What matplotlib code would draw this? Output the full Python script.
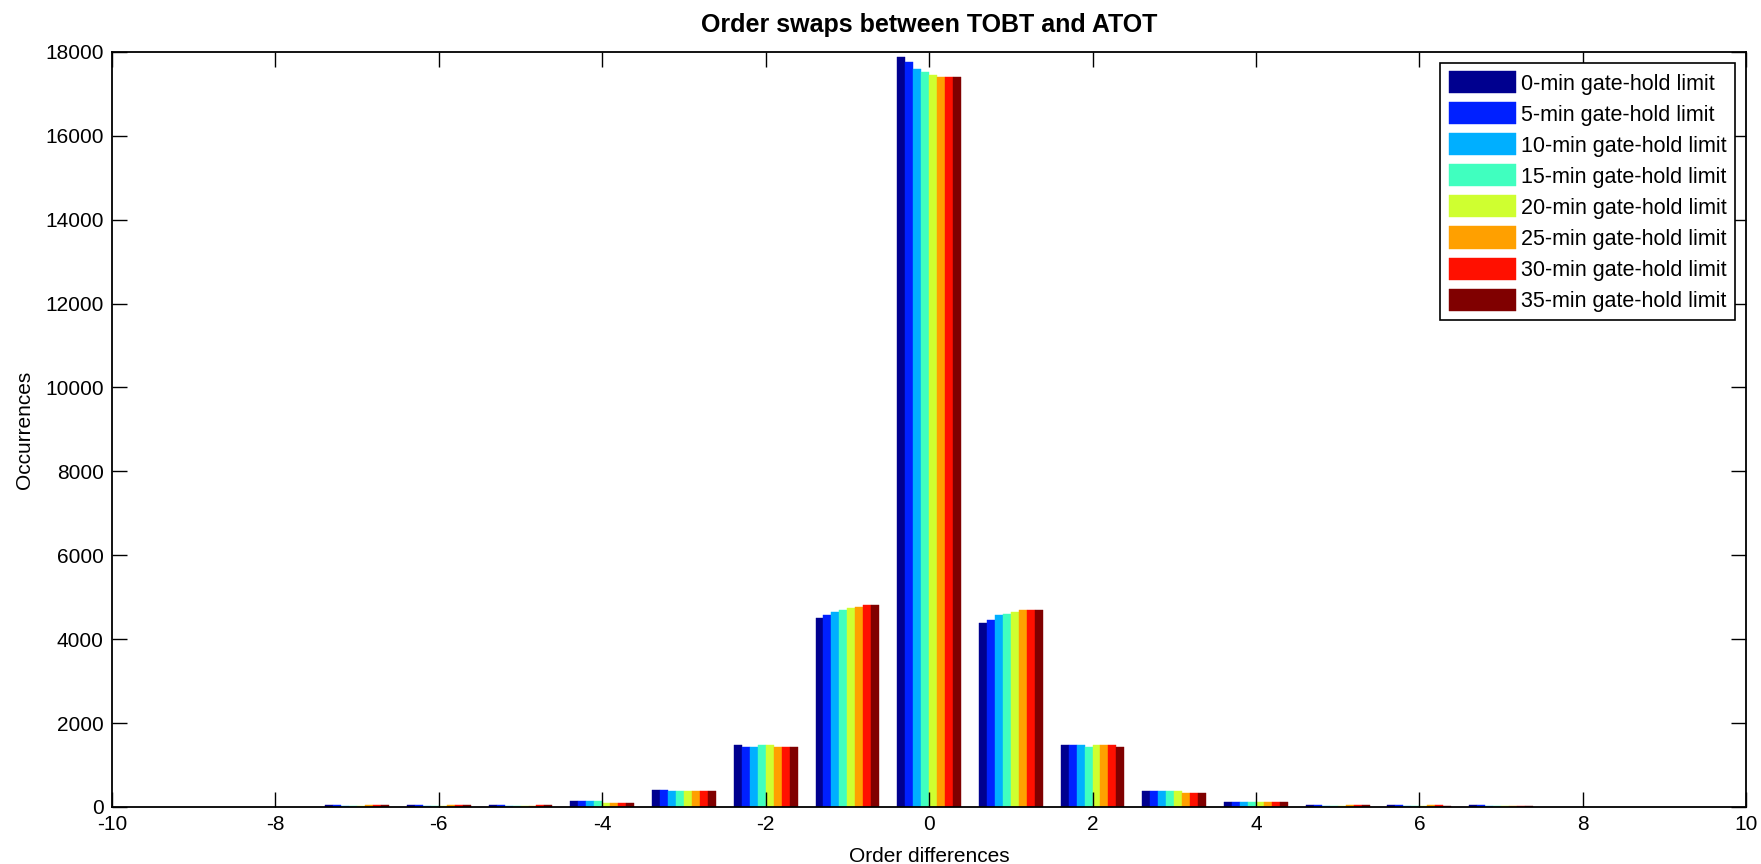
import matplotlib
matplotlib.use('Agg')
import matplotlib.pyplot as plt
import numpy as np

plt.rcParams['font.family'] = ['Liberation Sans', 'DejaVu Sans']
plt.rcParams['axes.unicode_minus'] = False

# order difference (group positions)
order_diff = [-7, -6, -5, -4, -3, -2, -1, 0, 1, 2, 3, 4, 5, 6, 7]

# occurrences per gate-hold limit
hold_0 = [40, 45, 40, 135, 400, 1470, 4500, 17870, 4380, 1470, 375, 130, 40, 40, 40]
hold_5 = [40, 40, 40, 135, 400, 1425, 4570, 17755, 4450, 1470, 375, 130, 40, 40, 40]
hold_10 = [35, 35, 35, 135, 375, 1425, 4650, 17600, 4570, 1470, 375, 120, 35, 35, 35]
hold_15 = [35, 35, 35, 135, 375, 1470, 4690, 17525, 4610, 1425, 375, 110, 35, 35, 35]
hold_20 = [35, 30, 35, 95, 375, 1470, 4740, 17445, 4650, 1470, 375, 110, 35, 35, 30]
hold_25 = [40, 40, 35, 95, 375, 1425, 4775, 17405, 4690, 1470, 335, 120, 40, 40, 35]
hold_30 = [40, 40, 40, 95, 375, 1425, 4810, 17405, 4690, 1470, 335, 120, 40, 40, 35]
hold_35 = [40, 40, 40, 95, 375, 1425, 4810, 17405, 4690, 1425, 335, 120, 40, 35, 35]

labels = ['0-min gate-hold limit', '5-min gate-hold limit', '10-min gate-hold limit',
          '15-min gate-hold limit', '20-min gate-hold limit', '25-min gate-hold limit',
          '30-min gate-hold limit', '35-min gate-hold limit']
colors = ['#00008f', '#0020ff', '#00afff', '#40ffbf', '#cfff30', '#ffa000', '#ff1000', '#800000']

series = [hold_0, hold_5, hold_10, hold_15, hold_20, hold_25, hold_30, hold_35]

fig = plt.figure(figsize=(17.61, 8.64), dpi=100)
ax = fig.add_axes([0.0636, 0.066, 0.928, 0.874])

x = np.array(order_diff, dtype=float)
w = 0.0975
for i in range(len(series)):
    off = (i - 3.5) * w
    ax.bar(x + off, series[i], width=w, color=colors[i], label=labels[i],
           edgecolor=colors[i], linewidth=0.3)

ax.set_xlim(-10, 10)
ax.set_ylim(0, 18000)
ax.set_xticks(range(-10, 11, 2))
ax.set_yticks(range(0, 18001, 2000))
ax.tick_params(direction='in', length=11, width=1, labelsize=15, pad=6,
               top=True, right=True)
for s in ax.spines.values():
    s.set_linewidth(1.3)

ax.set_title('Order swaps between TOBT and ATOT', fontsize=18, fontweight='bold', pad=14)
ax.set_xlabel('Order differences', fontsize=15, labelpad=9)
ax.set_ylabel('Occurrences', fontsize=15, labelpad=8)

leg = ax.legend(loc='upper right', fontsize=15.5, handlelength=3.1, handleheight=1.2,
                labelspacing=0.36, handletextpad=0.25, borderpad=0.4,
                borderaxespad=0.5, fancybox=False, framealpha=1)
leg.get_frame().set_edgecolor('black')
leg.get_frame().set_linewidth(1.2)

plt.savefig('out.png', dpi=100)
